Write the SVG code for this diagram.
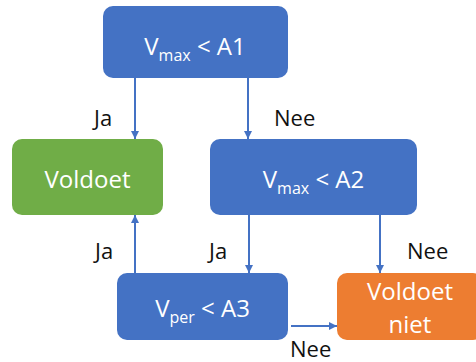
<svg xmlns="http://www.w3.org/2000/svg" width="476" height="362" viewBox="0 0 476 362">
<defs>
<marker id="ah" markerWidth="10" markerHeight="10" refX="9" refY="5" orient="auto" markerUnits="userSpaceOnUse">
<path d="M1,1 L9,5 L1,9 Z" fill="#4472C4"/>
</marker>
</defs>
<style>
.box{stroke:none}
.blue{fill:#4472C4}
.green{fill:#70AD47}
.orange{fill:#ED7D31}
.t{font-family:"Open Sans","Liberation Sans",sans-serif;font-size:24px;fill:#ffffff;text-anchor:middle}
.sub{font-size:16px}
.lbl{font-family:"Open Sans","Liberation Sans",sans-serif;font-size:22px;fill:#111111}
.c{stroke:#4472C4;stroke-width:2;fill:none;marker-end:url(#ah)}
</style>
<rect width="476" height="362" fill="#ffffff"/>
<g id="connectors">
<line class="c" x1="135" y1="78" x2="135" y2="139"/>
<line class="c" x1="248" y1="78" x2="248" y2="139"/>
<line class="c" x1="135" y1="273" x2="135" y2="215"/>
<line class="c" x1="249" y1="215" x2="249" y2="273"/>
<line class="c" x1="380" y1="215" x2="380" y2="273"/>
<line class="c" x1="291" y1="326" x2="337" y2="326"/>
<text class="lbl" x="94" y="126">Ja</text>
<text class="lbl" x="274" y="126">Nee</text>
<text class="lbl" x="95" y="259">Ja</text>
<text class="lbl" x="209" y="259">Ja</text>
<text class="lbl" x="407" y="259">Nee</text>
<text class="lbl" x="290" y="357">Nee</text>
</g>
<g id="n1">
<rect class="box blue" x="103" y="6" width="185" height="72" rx="10"/>
<text class="t" x="195" y="55">V<tspan class="sub" dy="6">max</tspan><tspan dy="-6"> &lt; A1</tspan></text>
</g>
<g id="n2">
<rect class="box green" x="12" y="139" width="151" height="76" rx="10"/>
<text class="t" x="87.5" y="188">Voldoet</text>
</g>
<g id="n3">
<rect class="box blue" x="210" y="139" width="207" height="76" rx="10"/>
<text class="t" x="313.5" y="188">V<tspan class="sub" dy="6">max</tspan><tspan dy="-6"> &lt; A2</tspan></text>
</g>
<g id="n4">
<rect class="box blue" x="117" y="273" width="171" height="67" rx="10"/>
<text class="t" x="202.5" y="317">V<tspan class="sub" dy="6">per</tspan><tspan dy="-6"> &lt; A3</tspan></text>
</g>
<g id="n5">
<rect class="box orange" x="337" y="273" width="146" height="67" rx="10"/>
<text class="t" x="410" y="300">Voldoet</text>
<text class="t" x="410" y="333">niet</text>
</g>
</svg>
